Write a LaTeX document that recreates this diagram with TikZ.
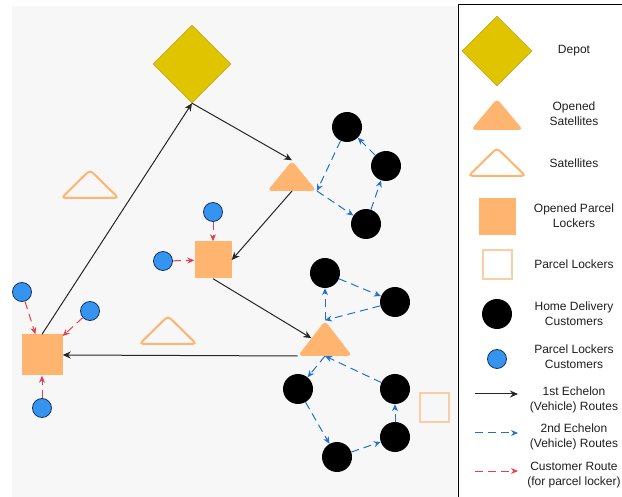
\documentclass[tikz,border=0pt]{standalone}
\usepackage{fontspec}
\setmainfont{Liberation Sans}
\usepackage{tikz}
\usetikzlibrary{shapes.geometric,arrows.meta}
\definecolor{depotyellow}{RGB}{224,196,0}
\definecolor{depotedge}{RGB}{176,150,0}
\definecolor{satorange}{RGB}{255,181,112}
\definecolor{lockeredge}{RGB}{250,206,164}
\definecolor{custblue}{RGB}{52,148,240}
\definecolor{custedge}{RGB}{22,52,100}
\definecolor{routeblue}{RGB}{34,114,204}
\definecolor{routered}{RGB}{232,62,78}
\definecolor{panelgray}{RGB}{247,247,247}
\definecolor{labelgray}{RGB}{30,30,30}

\begin{document}
\begin{tikzpicture}[x=1pt, y=-1pt,
	depot/.style = {draw=depotedge, fill=depotyellow, diamond, minimum width=78pt, minimum height=78pt, inner sep=0pt},
	opensat/.style = {fill=satorange, isosceles triangle, shape border rotate=90, isosceles triangle stretches, minimum width=49pt, minimum height=30pt, inner sep=0pt, rounded corners=4pt},
	sat/.style = {opensat, fill=none, draw=satorange, line width=2pt, minimum width=57pt, minimum height=28pt},
	openlocker/.style = {fill=satorange, minimum size=40pt, inner sep=0pt},
	locker/.style = {draw=lockeredge, line width=2pt, minimum size=29pt, inner sep=0pt},
	home/.style = {fill=black, circle, minimum size=30pt, inner sep=0pt},
	pick/.style = {draw=custedge, fill=custblue, circle, minimum size=19pt, inner sep=0pt, line width=0.8pt},
	first/.style = {-{Stealth[length=8pt,width=7pt]}, line width=1pt, black!85},
	second/.style = {-{Stealth[length=7pt,width=6pt]}, line width=1pt, routeblue, dash pattern=on 8pt off 5pt},
	walk/.style = {second, routered},
	lbl/.style = {align=center, text=labelgray, font=\fontsize{12}{15}\selectfont}]
	\useasboundingbox (0,0) rectangle (622,497);
	\fill[panelgray] (12,6) rectangle (457,497);
	\draw[line width=1pt] (458,640) -- (458,5) -- (640,5);
	\node[depot] (d) at (192,64) {};
	\node[opensat, anchor=lower side] (s1) at (292,191) {};
	\node[opensat, minimum width=54pt, minimum height=35pt, anchor=lower side] (s2) at (325,356) {};
	\node[sat, anchor=lower side] (e1) at (90,199) {};
	\node[sat, anchor=lower side] (e2) at (168,345) {};
	\node[openlocker, minimum size=37pt] (l1) at (213,260) {};
	\node[openlocker, minimum size=41pt] (l2) at (42,355) {};
	\node[locker] (e3) at (434,408) {};
	\node[home] (h1) at (347,127) {};
	\node[home] (h2) at (386,166) {};
	\node[home] (h3) at (366,224) {};
	\node[home] (h4) at (325,273) {};
	\node[home] (h5) at (395,302) {};
	\node[home] (h6) at (298,389) {};
	\node[home] (h7) at (395,389) {};
	\node[home] (h8) at (337,457) {};
	\node[home] (h9) at (395,437) {};
	\node[pick] (p1) at (213,212) {};
	\node[pick] (p2) at (163,261) {};
	\node[pick] (p3) at (22,292) {};
	\node[pick] (p4) at (90,311) {};
	\node[pick] (p5) at (42,408) {};
	\draw[first] (l2.north) -- (d.south);
	\draw[first] (d.south) -- (s1.apex);
	\draw[first] (s1.lower side) -- (l1.east);
	\draw[first] (l1.south) -- (s2.left side);
	\draw[first] (s2.left corner) -- (l2.east);
	\draw[second] (s1.right corner) -- (h3);
	\draw[second] (h3) -- (h2);
	\draw[second] (h2) -- (h1);
	\draw[second] (h1) -- (s1.right corner);
	\draw[second] (s2.apex) -- (h4);
	\draw[second] (h4) -- (h5);
	\draw[second] (h5) -- (s2.apex);
	\draw[second] (s2.lower side) -- (h6);
	\draw[second] (h6) -- (h8);
	\draw[second] (h8) -- (h9);
	\draw[second] (h9) -- (h7);
	\draw[second] (h7) -- (s2.lower side);
	\draw[walk] (p1) -- (l1);
	\draw[walk] (p2) -- (l1);
	\draw[walk] (p3) -- (l2);
	\draw[walk] (p4) -- (l2);
	\draw[walk] (p5) -- (l2);
	\node[depot, minimum width=70pt, minimum height=70pt] (k1) at (497,51) {};
	\node[lbl] (t1) at (574,51) {Depot};
	\node[opensat, minimum width=52pt, minimum height=31pt, anchor=lower side] (k2) at (497,130) {};
	\node[lbl] (t2) at (574,114) {Opened\\Satellites};
	\node[sat, anchor=lower side] (k3) at (497,177) {};
	\node[lbl] (t3) at (574,163) {Satellites};
	\node[openlocker, minimum size=37pt] (k4) at (497,217) {};
	\node[lbl] (t4) at (574,216) {Opened Parcel\\Lockers};
	\node[locker] (k5) at (497,265) {};
	\node[lbl] (t5) at (574,264) {Parcel Lockers};
	\node[home] (k6) at (497,314) {};
	\node[lbl] (t6) at (574,314) {Home Delivery\\Customers};
	\node[pick] (k7) at (497,359) {};
	\node[lbl] (t7) at (574,357) {Parcel Lockers\\Customers};
	\coordinate (a1) at (475,394);
	\coordinate (b1) at (518,394);
	\draw[first] (a1) -- (b1);
	\node[lbl] (t8) at (574,400) {1st Echelon\\(Vehicle) Routes};
	\coordinate (a2) at (475,433);
	\coordinate (b2) at (518,433);
	\draw[second] (a2) -- (b2);
	\node[lbl] (t9) at (574,437) {2nd Echelon\\(Vehicle) Routes};
	\coordinate (a3) at (475,471);
	\coordinate (b3) at (518,471);
	\draw[walk] (a3) -- (b3);
	\node[lbl] (t10) at (574,475) {Customer Route\\(for parcel locker)};
\end{tikzpicture}
\end{document}
